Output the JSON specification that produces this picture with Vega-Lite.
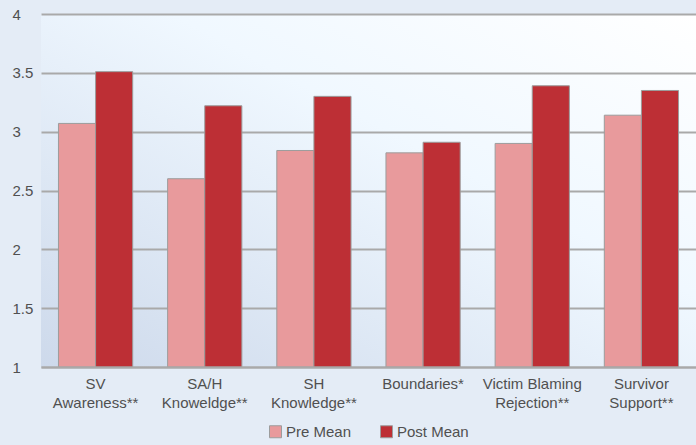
{
  "$schema": "https://vega.github.io/schema/vega-lite/v6.json",
  "width": 655,
  "height": 353,
  "autosize": {"type": "none"},
  "padding": {"left": 41, "top": 14, "right": 0, "bottom": 78},
  "background": "#e4ecf6",
  "data": {
    "values": [
      {"measure": "SV|Awareness**", "series": "Pre Mean", "mean": 3.07},
      {"measure": "SV|Awareness**", "series": "Post Mean", "mean": 3.51},
      {"measure": "SA/H|Knoweldge**", "series": "Pre Mean", "mean": 2.60},
      {"measure": "SA/H|Knoweldge**", "series": "Post Mean", "mean": 3.22},
      {"measure": "SH|Knowledge**", "series": "Pre Mean", "mean": 2.84},
      {"measure": "SH|Knowledge**", "series": "Post Mean", "mean": 3.30},
      {"measure": "Boundaries*", "series": "Pre Mean", "mean": 2.82},
      {"measure": "Boundaries*", "series": "Post Mean", "mean": 2.91},
      {"measure": "Victim Blaming|Rejection**", "series": "Pre Mean", "mean": 2.90},
      {"measure": "Victim Blaming|Rejection**", "series": "Post Mean", "mean": 3.39},
      {"measure": "Survivor|Support**", "series": "Pre Mean", "mean": 3.14},
      {"measure": "Survivor|Support**", "series": "Post Mean", "mean": 3.35}
    ]
  },
  "mark": {"type": "bar", "stroke": "#9c9c9c", "strokeWidth": 1},
  "encoding": {
    "x": {
      "field": "measure",
      "type": "nominal",
      "sort": null,
      "title": null,
      "scale": {"paddingInner": 0.32, "paddingOuter": 0.16},
      "axis": {
        "labelAngle": 0,
        "labelExpr": "split(datum.value, '|')",
        "labelLineHeight": 19,
        "labelPadding": 9,
        "ticks": false,
        "domainColor": "#a9a9a9",
        "domainWidth": 2,
        "zindex": 1
      }
    },
    "xOffset": {"field": "series", "type": "nominal", "sort": ["Pre Mean", "Post Mean"]},
    "y": {
      "field": "mean",
      "type": "quantitative",
      "title": null,
      "scale": {"domain": [1, 4], "zero": false, "nice": false},
      "axis": {
        "values": [1, 1.5, 2, 2.5, 3, 3.5, 4],
        "format": "~g",
        "labelAlign": "left",
        "labelPadding": 29,
        "ticks": false,
        "domain": false,
        "gridColor": "#a9a9a9",
        "gridWidth": 2,
        "gridOpacity": 1
      }
    },
    "y2": {"datum": 1},
    "color": {
      "field": "series",
      "type": "nominal",
      "sort": ["Pre Mean", "Post Mean"],
      "scale": {"domain": ["Pre Mean", "Post Mean"], "range": ["#e89a9c", "#bd2f35"]},
      "legend": {
        "title": null,
        "orient": "bottom",
        "direction": "horizontal",
        "symbolType": "square",
        "symbolSize": 144,
        "symbolStrokeColor": "#9c9c9c",
        "symbolStrokeWidth": 1,
        "symbolOpacity": 1,
        "labelOffset": 3,
        "columnPadding": 26,
        "offset": 14
      }
    }
  },
  "config": {
    "view": {
      "stroke": null,
      "fill": {
        "gradient": "linear",
        "x1": 0, "y1": 1, "x2": 1, "y2": 0,
        "stops": [
          {"offset": 0, "color": "#cdd9eb"},
          {"offset": 0.6, "color": "#f0f8ff"},
          {"offset": 1, "color": "#ffffff"}
        ]
      }
    },
    "font": "Liberation Sans",
    "axis": {
      "labelFont": "Liberation Sans",
      "labelFontSize": 15,
      "labelColor": "#505050"
    },
    "legend": {
      "labelFont": "Liberation Sans",
      "labelFontSize": 15,
      "labelColor": "#505050",
      "layout": {"bottom": {"anchor": "middle"}}
    }
  }
}
